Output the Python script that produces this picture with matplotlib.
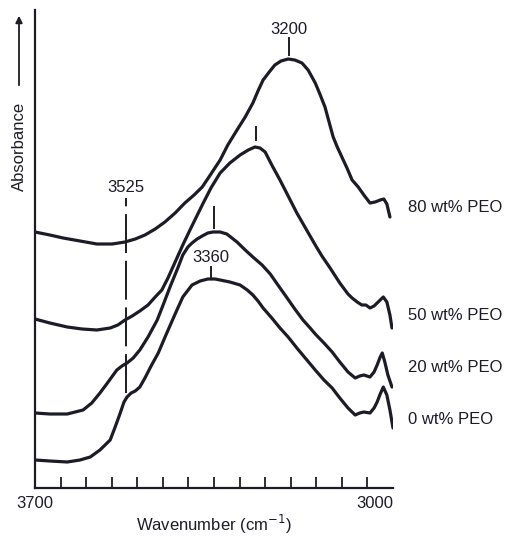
import matplotlib
matplotlib.use("Agg")
import matplotlib.pyplot as plt
from matplotlib.patches import FancyArrowPatch

plt.rcParams['font.family'] = ['Liberation Sans', 'DejaVu Sans']

ink = '#1c1c28'

# IR spectra, wavenumber (cm-1) vs absorbance (arbitrary units, offset)
wn_80 = [3700, 3671, 3645, 3612, 3579, 3549, 3524, 3504, 3485, 3465, 3446, 3426, 3407, 3389,
         3373, 3356, 3338, 3323, 3305, 3289, 3274, 3264, 3254, 3242, 3231, 3219, 3205, 3192,
         3178, 3166, 3152, 3143, 3133, 3125, 3117, 3109, 3100, 3090, 3080, 3068, 3057, 3045,
         3035, 3025, 3018, 3012, 3006]
ab_80 = [2.56, 2.53, 2.50, 2.47, 2.44, 2.44, 2.46, 2.49, 2.53, 2.59, 2.66, 2.75, 2.85, 2.93,
         3.01, 3.14, 3.28, 3.43, 3.58, 3.71, 3.85, 3.97, 4.08, 4.16, 4.23, 4.27, 4.29, 4.28,
         4.25, 4.18, 4.05, 3.94, 3.81, 3.66, 3.51, 3.41, 3.31, 3.20, 3.08, 3.01, 2.93, 2.85,
         2.86, 2.88, 2.89, 2.84, 2.71]

wn_50 = [3700, 3671, 3637, 3608, 3579, 3553, 3538, 3524, 3510, 3495, 3479, 3465, 3452, 3440,
         3426, 3411, 3397, 3373, 3356, 3338, 3319, 3299, 3283, 3270, 3260, 3250, 3237, 3221,
         3205, 3188, 3170, 3152, 3139, 3123, 3104, 3088, 3080, 3070, 3061, 3053, 3045, 3037,
         3029, 3019, 3012, 3006, 3002]
ab_50 = [1.69, 1.65, 1.61, 1.59, 1.58, 1.60, 1.63, 1.68, 1.72, 1.77, 1.83, 1.91, 1.98, 2.10,
         2.26, 2.43, 2.58, 2.83, 3.00, 3.15, 3.25, 3.33, 3.38, 3.41, 3.40, 3.36, 3.23, 3.08,
         2.92, 2.75, 2.59, 2.43, 2.32, 2.20, 2.05, 1.94, 1.90, 1.86, 1.83, 1.83, 1.80, 1.82,
         1.86, 1.91, 1.86, 1.73, 1.60]

wn_20 = [3700, 3671, 3637, 3606, 3589, 3573, 3557, 3540, 3530, 3520, 3508, 3495, 3479, 3461,
         3448, 3436, 3420, 3411, 3401, 3393, 3383, 3373, 3362, 3352, 3338, 3325, 3305, 3289,
         3274, 3256, 3240, 3225, 3207, 3192, 3176, 3162, 3152, 3135, 3119, 3104, 3088, 3074,
         3065, 3057, 3045, 3037, 3031, 3025, 3021, 3016, 3010, 3002]
ab_20 = [0.75, 0.74, 0.74, 0.78, 0.85, 0.95, 1.06, 1.18, 1.22, 1.25, 1.30, 1.38, 1.51, 1.68,
         1.85, 2.01, 2.21, 2.33, 2.41, 2.45, 2.49, 2.52, 2.55, 2.56, 2.56, 2.54, 2.46, 2.38,
         2.31, 2.23, 2.14, 2.03, 1.90, 1.79, 1.68, 1.60, 1.54, 1.45, 1.36, 1.26, 1.16, 1.10,
         1.12, 1.13, 1.11, 1.16, 1.23, 1.31, 1.35, 1.26, 1.13, 1.01]

wn_0 = [3700, 3671, 3637, 3612, 3592, 3573, 3553, 3544, 3534, 3526, 3520, 3512, 3504, 3495,
        3485, 3473, 3459, 3444, 3426, 3411, 3393, 3377, 3362, 3348, 3338, 3319, 3299, 3285,
        3274, 3264, 3254, 3237, 3221, 3205, 3188, 3170, 3152, 3135, 3119, 3104, 3088, 3074,
        3065, 3057, 3045, 3037, 3031, 3025, 3019, 3012, 3006, 3000]
ab_0 = [0.28, 0.27, 0.26, 0.28, 0.31, 0.38, 0.48, 0.60, 0.74, 0.86, 0.91, 0.95, 0.97, 1.01,
        1.10, 1.22, 1.35, 1.53, 1.74, 1.91, 2.03, 2.07, 2.09, 2.09, 2.08, 2.06, 2.03, 1.98,
        1.93, 1.87, 1.80, 1.70, 1.60, 1.51, 1.40, 1.29, 1.18, 1.08, 1.00, 0.90, 0.80, 0.73,
        0.75, 0.76, 0.75, 0.80, 0.86, 0.94, 1.01, 0.93, 0.78, 0.60]

labels = ['80 wt% PEO', '50 wt% PEO', '20 wt% PEO', '0 wt% PEO']
label_y = [2.81, 1.73, 1.20, 0.68]

fig = plt.figure(figsize=(5.06, 5.37), dpi=100)
ax = fig.add_axes([35/506, 49/537, 358/506, 478/537])

for wn, ab in [(wn_80, ab_80), (wn_50, ab_50), (wn_20, ab_20), (wn_0, ab_0)]:
    ax.plot(wn, ab, color=ink, lw=2.3, solid_joinstyle='round', solid_capstyle='round')

for lab, y in zip(labels, label_y):
    ax.text(2971, y, lab, fontsize=12, color=ink, ha='left', va='center', clip_on=False)

# peak markers
ax.plot([3203, 3203], [4.33, 4.50], color=ink, lw=1.4)
ax.text(3203, 4.59, '3200', fontsize=12, color=ink, ha='center', va='center')
ax.plot([3268, 3268], [3.48, 3.61], color=ink, lw=1.4)
ax.plot([3350, 3350], [2.60, 2.81], color=ink, lw=1.4)
ax.plot([3356, 3356], [2.11, 2.21], color=ink, lw=1.4)
ax.text(3356, 2.31, '3360', fontsize=12, color=ink, ha='center', va='center')
ax.plot([3522, 3522], [0.95, 2.90], color=ink, lw=1.4, dashes=(20, 4))
ax.text(3522, 3.00, '3525', fontsize=12, color=ink, ha='center', va='center')

ax.set_xlim(3700, 3000)
ax.set_ylim(0, 4.78)
ax.set_xticks([3700, 3000])
ax.set_xticklabels(['3700', '3000'])
ax.get_xticklabels()[1].set_ha('right')
ax.set_xticks(list(range(3650, 3000, -50)), minor=True)
ax.tick_params(axis='x', which='major', length=0, pad=6, labelsize=12, labelcolor=ink)
ax.tick_params(axis='x', which='minor', direction='in', length=8, width=1.3, color=ink)
ax.set_yticks([])
for s in ['top', 'right']:
    ax.spines[s].set_visible(False)
for s in ['left', 'bottom']:
    ax.spines[s].set_linewidth(1.6)
    ax.spines[s].set_color(ink)
ax.set_xlabel('Wavenumber (cm$^{-1}$)', fontsize=12, color=ink)
ax.xaxis.set_label_coords(0.5, -0.077)
ax.xaxis.label.set_va('center')

fig.text(19/506, 1 - 146/537, 'Absorbance', rotation=90, fontsize=12, color=ink,
         ha='center', va='center')
fig.add_artist(FancyArrowPatch((19/506, 1 - 88/537), (19/506, 1 - 13/537),
               transform=fig.transFigure, arrowstyle='-|>', mutation_scale=10,
               color=ink, lw=1.3))

fig.savefig('out.png', dpi=100)
